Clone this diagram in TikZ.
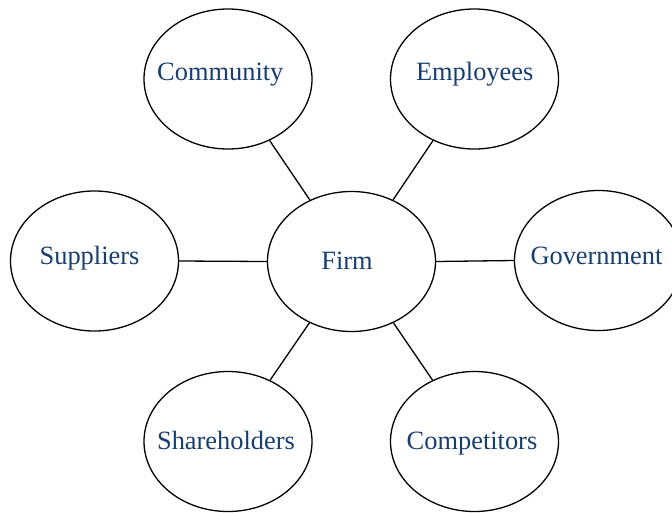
\documentclass[tikz,border=0pt]{standalone}
\usepackage{fontspec}
\setmainfont{Liberation Serif}
\usetikzlibrary{shapes.geometric}
\definecolor{labelblue}{RGB}{24,62,112}
\begin{document}
\begin{tikzpicture}[x=1pt,y=1pt,
  oval/.style={draw=black,line width=1.3pt,ellipse,minimum width=168pt,minimum height=140pt,inner sep=0pt},
  lbl/.style={text=labelblue,font=\fontsize{26.4}{30}\selectfont,inner sep=0pt,anchor=base},
  link/.style={draw=black,line width=1.3pt}]
\useasboundingbox (0,0) rectangle (672,-512);
\clip (0,0) rectangle (672,-512);
\node[oval] (firm) at (351.5,-261.5) {};
\node[oval] (comm) at (228,-79) {};
\node[oval] (empl) at (474.5,-79) {};
\node[oval] (supp) at (94.5,-261) {};
\node[oval] (gov) at (598.5,-260.5) {};
\node[oval] (share) at (228,-441.5) {};
\node[oval] (comp) at (474.5,-441.5) {};
\node[lbl] (tfirm) at (347,-269.3) {Firm};
\node[lbl] (tcomm) at (220.3,-80.8) {Community};
\node[lbl] (templ) at (474.7,-80.8) {Employees};
\node[lbl] (tsupp) at (89.5,-264) {Suppliers};
\node[lbl] (tgov) at (596.5,-264.3) {Government};
\node[lbl] (tshare) at (226,-449) {Shareholders};
\node[lbl] (tcomp) at (472,-449.5) {Competitors};
\draw[link] (firm) -- (comm);
\draw[link] (firm) -- (empl);
\draw[link] (firm.west) -- (supp.east);
\draw[link] (firm.east) -- (gov.west);
\draw[link] (firm) -- (share);
\draw[link] (firm) -- (comp);
\end{tikzpicture}
\end{document}
